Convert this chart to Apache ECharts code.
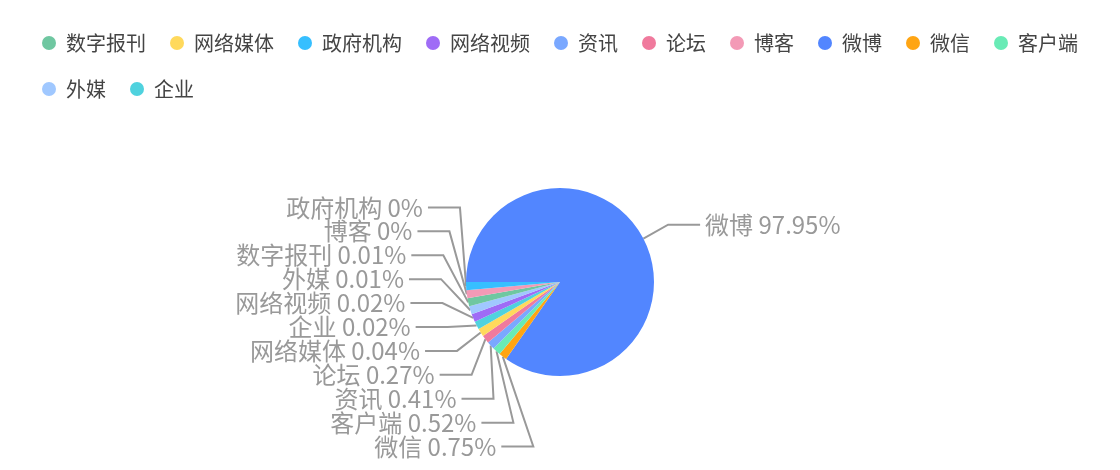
<!DOCTYPE html>
<html>
<head>
<meta charset="utf-8">
<script src="https://cdn.jsdelivr.net/npm/echarts@6/dist/echarts.min.js"></script>
<style>
html,body{margin:0;padding:0;background:#fff;}
#chart{width:1120px;height:470px;}
</style>
</head>
<body>
<div id="chart"></div>
<script>
// Legend order
const categories = ['数字报刊','网络媒体','政府机构','网络视频','资讯','论坛','博客','微博','微信','客户端','外媒','企业'];
// Share of each category, percent
const shares = [0.01, 0.04, 0, 0.02, 0.41, 0.27, 0, 97.95, 0.75, 0.52, 0.01, 0.02];
// Order of slices around the pie
const pieOrder = ['微博','微信','客户端','资讯','论坛','网络媒体','企业','网络视频','外媒','数字报刊','博客','政府机构'];
const colors = ['#6fc7a1','#ffd95c','#36bfff','#9f6cf6','#7aa8ff','#f07a9d','#f39ab6','#5286ff','#ffa513','#69ebb6','#a0c8ff','#4fd2de'];

const seriesData = pieOrder.map(function (name) {
  const i = categories.indexOf(name);
  return { name: name, value: Math.round(shares[i] * 100), itemStyle: { color: colors[i] } };
});

const LEN = 30, LEN2 = 32, DIST = 5, STEP = 20, ROW = 24, RAW_ROW = 26.1;

const chart = echarts.init(document.getElementById('chart'), null, { renderer: 'canvas' });

function pieGeom() {
  const W = chart.getWidth(), H = chart.getHeight();
  return { cx: W * 0.5, cy: H * 0.6, r: Math.min(W, H) * 0.4 / 2 };
}

// classic label placement: text anchors on a circle, stepping inward below it
function anchorOffset(dy, g) {
  const R = g.r + LEN + LEN2;
  const ady = Math.abs(dy);
  if (ady < g.r + LEN) return Math.sqrt(R * R - ady * ady);
  return anchorOffset(dy - ROW * Math.sign(dy), g) - STEP;
}

const rawY = {};

const option = {
  animation: false,
  textStyle: { fontFamily: '"Noto Sans CJK SC", "Noto Sans", sans-serif' },
  legend: {
    data: categories,
    left: 'center',
    top: 27,
    icon: 'circle',
    itemWidth: 14,
    itemHeight: 14,
    itemGap: 24,
    textStyle: { fontSize: 20, lineHeight: 22, color: '#444', padding: [0, 0, 0, 5] }
  },
  series: [{
    type: 'pie',
    center: ['50%', '60%'],
    radius: '40%',
    startAngle: 180,
    clockwise: true,
    minAngle: 5,
    data: seriesData,
    label: {
      formatter: '{b} {d}%',
      fontSize: 24,
      color: '#999'
    },
    labelLine: {
      length: LEN,
      length2: LEN2,
      lineStyle: { color: '#999', width: 2 }
    },
    labelLayout: function (p) {
      const pts = p.labelLinePoints;
      if (!pts) return {};
      const g = pieGeom();
      const edge = pts[0];
      const dir = edge[0] < g.cx ? -1 : 1;
      const yRaw = p.labelRect.y + p.labelRect.height / 2;
      rawY[p.dataIndex] = { y: yRaw, dir: dir };
      const same = Object.keys(rawY).map(function (k) { return rawY[k]; })
        .filter(function (o) { return o.dir === dir; });
      let y = yRaw;
      if (same.length > 1) {
        const mean = same.reduce(function (s, o) { return s + o.y; }, 0) / same.length;
        y = mean + (yRaw - mean) * ROW / RAW_ROW;
      }
      const dx = anchorOffset(y - g.cy, g);
      const ax = g.cx + dir * dx;
      const endX = ax - dir * DIST;
      const elbowX = endX - dir * LEN2;
      return {
        x: ax,
        y: y,
        align: dir < 0 ? 'right' : 'left',
        verticalAlign: 'middle',
        labelLinePoints: [[edge[0], edge[1]], [elbowX, y], [endX, y]]
      };
    }
  }]
};

chart.setOption(option);
// second pass: every label's packed position is known now
chart.setOption(option, true);
</script>
</body>
</html>
